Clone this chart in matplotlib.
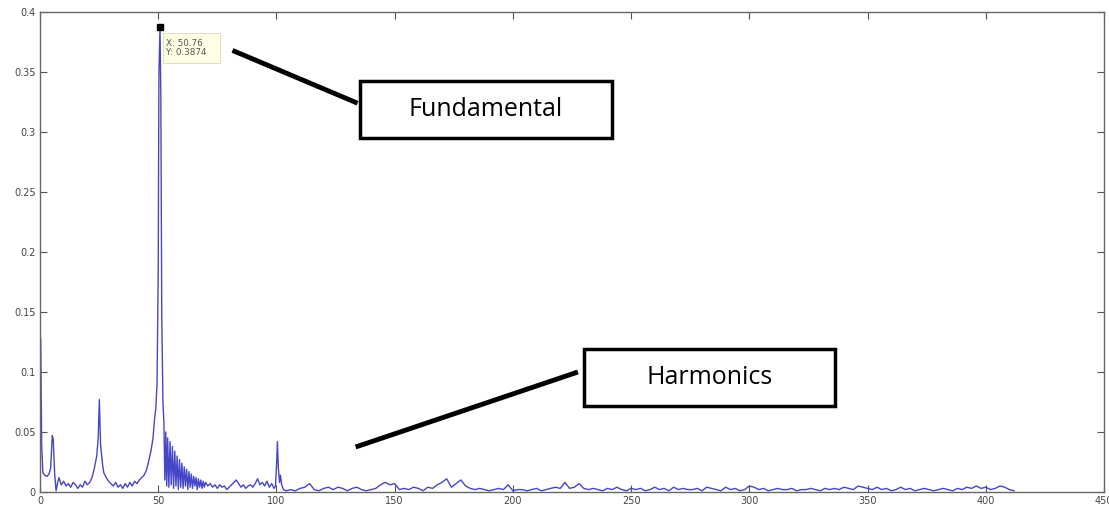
import numpy as np
import matplotlib
matplotlib.use("Agg")
import matplotlib.pyplot as plt
from matplotlib.patches import Rectangle
from matplotlib.lines import Line2D

# ---------------------------------------------- spectrum data ----------------------------------------------#
freq_low = [0.3, 0.7, 1.2, 2, 3, 3.8, 4.5, 5.2, 5.6, 6.2, 6.8, 7.5, 8, 9, 10, 11, 12, 13, 14, 15,
            16, 17, 18, 19, 20, 21, 22, 23, 24, 24.6, 25.1, 25.6, 26.5, 27, 28, 29, 30, 31, 32, 33,
            34, 35, 36, 37, 38, 39, 40, 41, 42, 43, 44, 45, 46, 47, 47.8, 48.4, 49, 49.5, 50, 50.3,
            50.76, 51.1, 51.5, 52, 52.4,
            52.8, 53.2, 53.6, 54, 54.5, 55, 55.5, 56, 56.5, 57, 57.5, 58, 58.5, 59, 59.5, 60, 60.5,
            61, 61.5, 62, 62.5, 63, 63.5, 64, 64.5, 65, 65.5, 66, 66.5, 67, 67.5, 68, 68.5, 69, 69.5, 70,
            71, 72, 73, 74, 75, 76, 77, 78, 79, 80, 81, 82, 83, 84, 85, 86, 87, 88, 89, 90,
            91, 92, 93, 94, 95, 96, 97, 98, 99, 99.6, 100.1, 100.4, 100.8, 101.3, 101.7, 102.2, 103]
amp_low = [0.128, 0.04, 0.016, 0.014, 0.013, 0.015, 0.02, 0.047, 0.044, 0.015, 0.001, 0.008, 0.012, 0.006, 0.009, 0.005, 0.007, 0.004, 0.008, 0.006,
           0.003, 0.006, 0.004, 0.009, 0.006, 0.008, 0.012, 0.02, 0.03, 0.045, 0.077, 0.04, 0.022, 0.016, 0.012, 0.009, 0.007, 0.005, 0.008, 0.004,
           0.006, 0.003, 0.007, 0.004, 0.008, 0.005, 0.009, 0.007, 0.01, 0.012, 0.014, 0.018, 0.026, 0.035, 0.045, 0.06, 0.07, 0.09, 0.185, 0.35,
           0.3874, 0.33, 0.145, 0.075, 0.058,
           0.01, 0.05, 0.005, 0.045, 0.004, 0.042, 0.006, 0.038, 0.003, 0.034, 0.005, 0.03, 0.002, 0.027, 0.004, 0.024, 0.003,
           0.021, 0.005, 0.019, 0.002, 0.017, 0.004, 0.015, 0.003, 0.013, 0.005, 0.012, 0.002, 0.011, 0.004, 0.01, 0.003, 0.009, 0.004, 0.008,
           0.005, 0.007, 0.004, 0.006, 0.003, 0.006, 0.004, 0.005, 0.002, 0.004, 0.006, 0.008, 0.01, 0.007, 0.004, 0.006, 0.003, 0.005, 0.006, 0.004,
           0.007, 0.011, 0.006, 0.008, 0.005, 0.009, 0.004, 0.007, 0.003, 0.005, 0.025, 0.042, 0.02, 0.008, 0.014, 0.006, 0.002]

freq_high = np.arange(104, 414, 2)
amp_high = [0.001, 0.002, 0.001, 0.003, 0.004, 0.007, 0.002, 0.001, 0.003, 0.004,
            0.002, 0.004, 0.003, 0.001, 0.003, 0.004, 0.002, 0.001, 0.002, 0.003,
            0.006, 0.008, 0.006, 0.007, 0.002, 0.003, 0.002, 0.004, 0.003, 0.001,
            0.004, 0.003, 0.006, 0.008, 0.011, 0.004, 0.007, 0.010, 0.005, 0.003,
            0.002, 0.003, 0.002, 0.001, 0.002, 0.003, 0.002, 0.006, 0.001, 0.002,
            0.002, 0.001, 0.002, 0.003, 0.001, 0.002, 0.003, 0.004, 0.003, 0.008,
            0.003, 0.004, 0.007, 0.003, 0.002, 0.003, 0.002, 0.001, 0.003, 0.002,
            0.004, 0.002, 0.001, 0.003, 0.002, 0.003, 0.001, 0.002, 0.004, 0.002,
            0.003, 0.001, 0.004, 0.002, 0.003, 0.002, 0.002, 0.003, 0.001, 0.004,
            0.003, 0.002, 0.001, 0.004, 0.002, 0.003, 0.001, 0.002, 0.005, 0.004,
            0.002, 0.003, 0.001, 0.002, 0.003, 0.002, 0.002, 0.003, 0.001, 0.002,
            0.002, 0.003, 0.002, 0.001, 0.003, 0.002, 0.003, 0.002, 0.004, 0.003,
            0.002, 0.005, 0.004, 0.003, 0.002, 0.004, 0.002, 0.003, 0.001, 0.002,
            0.004, 0.002, 0.003, 0.001, 0.002, 0.003, 0.002, 0.001, 0.002, 0.003,
            0.002, 0.001, 0.003, 0.002, 0.004, 0.003, 0.005, 0.003, 0.004, 0.002,
            0.003, 0.005, 0.004, 0.002, 0.001]

peak_x, peak_y = 50.76, 0.3874

x_ticks = np.arange(0, 451, 50)
y_ticks = [0, 0.05, 0.1, 0.15, 0.2, 0.25, 0.3, 0.35, 0.4]
y_labels = ['0', '0.05', '0.1', '0.15', '0.2', '0.25', '0.3', '0.35', '0.4']

# ---------------------------------------------- plot ----------------------------------------------#
freq = np.concatenate([freq_low, freq_high])
amp = np.concatenate([amp_low, amp_high])

fig = plt.figure(figsize=(11.09, 5.11), dpi=100)
ax = fig.add_axes([40 / 1109, 19 / 511, 1064 / 1109, 480 / 511])

ax.plot(freq, amp, color='#4646c8', lw=1.0)
ax.set_xlim(0, 450)
ax.set_ylim(0, 0.4)

ax.set_xticks(x_ticks)
ax.set_yticks(y_ticks)
ax.set_yticklabels(y_labels)
ax.tick_params(direction='in', top=True, right=True, length=5, width=0.8,
               labelsize=7, labelcolor='#444444', color='#555555', pad=3)
for s in ax.spines.values():
    s.set_color('#666666')
    s.set_linewidth(1.0)

# data tip
ax.plot([peak_x], [peak_y], marker='s', ms=5, color='black', clip_on=False, zorder=5)
ax.add_patch(Rectangle((52.2, 0.3575), 24, 0.025, facecolor='#ffffe6', edgecolor='#d8d8c0',
                       lw=0.6, zorder=4))
ax.text(53.3, 0.370, 'X: 50.76\nY: 0.3874', fontsize=6.3, color='#555555', va='center',
        ha='left', linespacing=1.05, zorder=5)

# callout boxes and pointer lines
ax.add_line(Line2D([81.4, 134.3], [0.368, 0.324], color='black', lw=3.5, solid_capstyle='butt'))
ax.add_patch(Rectangle((135.2, 0.295), 106.8, 0.0475, facecolor='white', edgecolor='black', lw=2.5))
ax.text(188.6, 0.3185, 'Fundamental', fontsize=18, family='Open Sans', ha='center', va='center')

ax.add_line(Line2D([133.5, 227.5], [0.0375, 0.100], color='black', lw=3.5, solid_capstyle='butt'))
ax.add_patch(Rectangle((230.1, 0.0717), 106, 0.0475, facecolor='white', edgecolor='black', lw=2.5))
ax.text(283.1, 0.0955, 'Harmonics', fontsize=18, family='Open Sans', ha='center', va='center')

plt.savefig('out.png', dpi=100)
